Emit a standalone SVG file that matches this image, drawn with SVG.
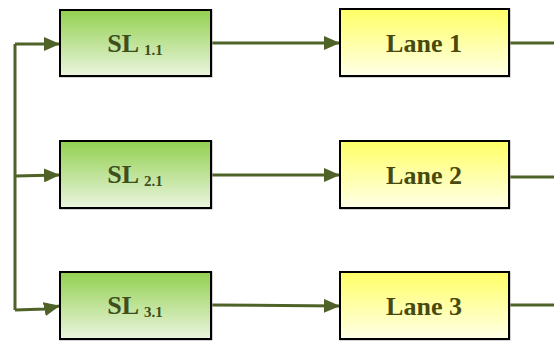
<svg xmlns="http://www.w3.org/2000/svg" width="554" height="341" viewBox="0 0 554 341">
<defs>
<linearGradient id="gG" x1="0" y1="0" x2="0" y2="1">
<stop offset="0" stop-color="#92d050"/>
<stop offset="1" stop-color="#ebf5df"/>
</linearGradient>
<linearGradient id="gY" x1="0" y1="0" x2="0" y2="1">
<stop offset="0" stop-color="#ffff66"/>
<stop offset="1" stop-color="#ffffe8"/>
</linearGradient>
<marker id="ah" markerWidth="16" markerHeight="14" refX="15" refY="7" orient="auto" markerUnits="userSpaceOnUse">
<path d="M0,0 L16,7 L0,14 Z" fill="#4f6228"/>
</marker>
</defs>
<style>
.sl{fill:url(#gG);stroke:#000;stroke-width:2}
.ln{fill:url(#gY);stroke:#000;stroke-width:2}
.sh{fill:none;stroke:#a6a6a6;stroke-width:1}
.c{fill:none;stroke:#4f6228;stroke-width:3}
.t{font-family:"Liberation Serif","Times New Roman",serif;font-weight:bold;font-size:26px;text-anchor:middle}
.ts{fill:#3d4f1e}
.tl{fill:#474a0c}
.sub{font-size:15px}
</style>
<g id="connectors">
<path class="c" d="M15,44 L15,310"/>
<path class="c" d="M15,44 L59,44" marker-end="url(#ah)"/>
<path class="c" d="M15,176 L59,175" marker-end="url(#ah)"/>
<path class="c" d="M15,310 L45,309 L59,306" marker-end="url(#ah)"/>
<path class="c" d="M211,43 L339,43" marker-end="url(#ah)"/>
<path class="c" d="M211,175 L339,175" marker-end="url(#ah)"/>
<path class="c" d="M211,305 L339,306" marker-end="url(#ah)"/>
<path class="c" d="M509,43 L554,43"/>
<path class="c" d="M509,177 L554,177"/>
<path class="c" d="M509,305 L554,305"/>
</g>
<g id="sl11">
<rect class="sh" x="60" y="10" width="152" height="67"/>
<rect class="sl" x="60" y="10" width="151" height="66"/>
<text class="t ts" x="135" y="52">SL <tspan class="sub" dy="3">1.1</tspan></text>
</g>
<g id="sl21">
<rect class="sh" x="60" y="141" width="152" height="68"/>
<rect class="sl" x="60" y="141" width="151" height="67"/>
<text class="t ts" x="135" y="183">SL <tspan class="sub" dy="3">2.1</tspan></text>
</g>
<g id="sl31">
<rect class="sh" x="60" y="272" width="152" height="68"/>
<rect class="sl" x="60" y="272" width="151" height="67"/>
<text class="t ts" x="135" y="314">SL <tspan class="sub" dy="3">3.1</tspan></text>
</g>
<g id="lane1">
<rect class="sh" x="340" y="9" width="170" height="68"/>
<rect class="ln" x="340" y="9" width="169" height="67"/>
<text class="t tl" x="424" y="52">Lane 1</text>
</g>
<g id="lane2">
<rect class="sh" x="340" y="141" width="170" height="68"/>
<rect class="ln" x="340" y="141" width="169" height="67"/>
<text class="t tl" x="424" y="184">Lane 2</text>
</g>
<g id="lane3">
<rect class="sh" x="340" y="272" width="170" height="68"/>
<rect class="ln" x="340" y="272" width="169" height="67"/>
<text class="t tl" x="424" y="315">Lane 3</text>
</g>
</svg>
